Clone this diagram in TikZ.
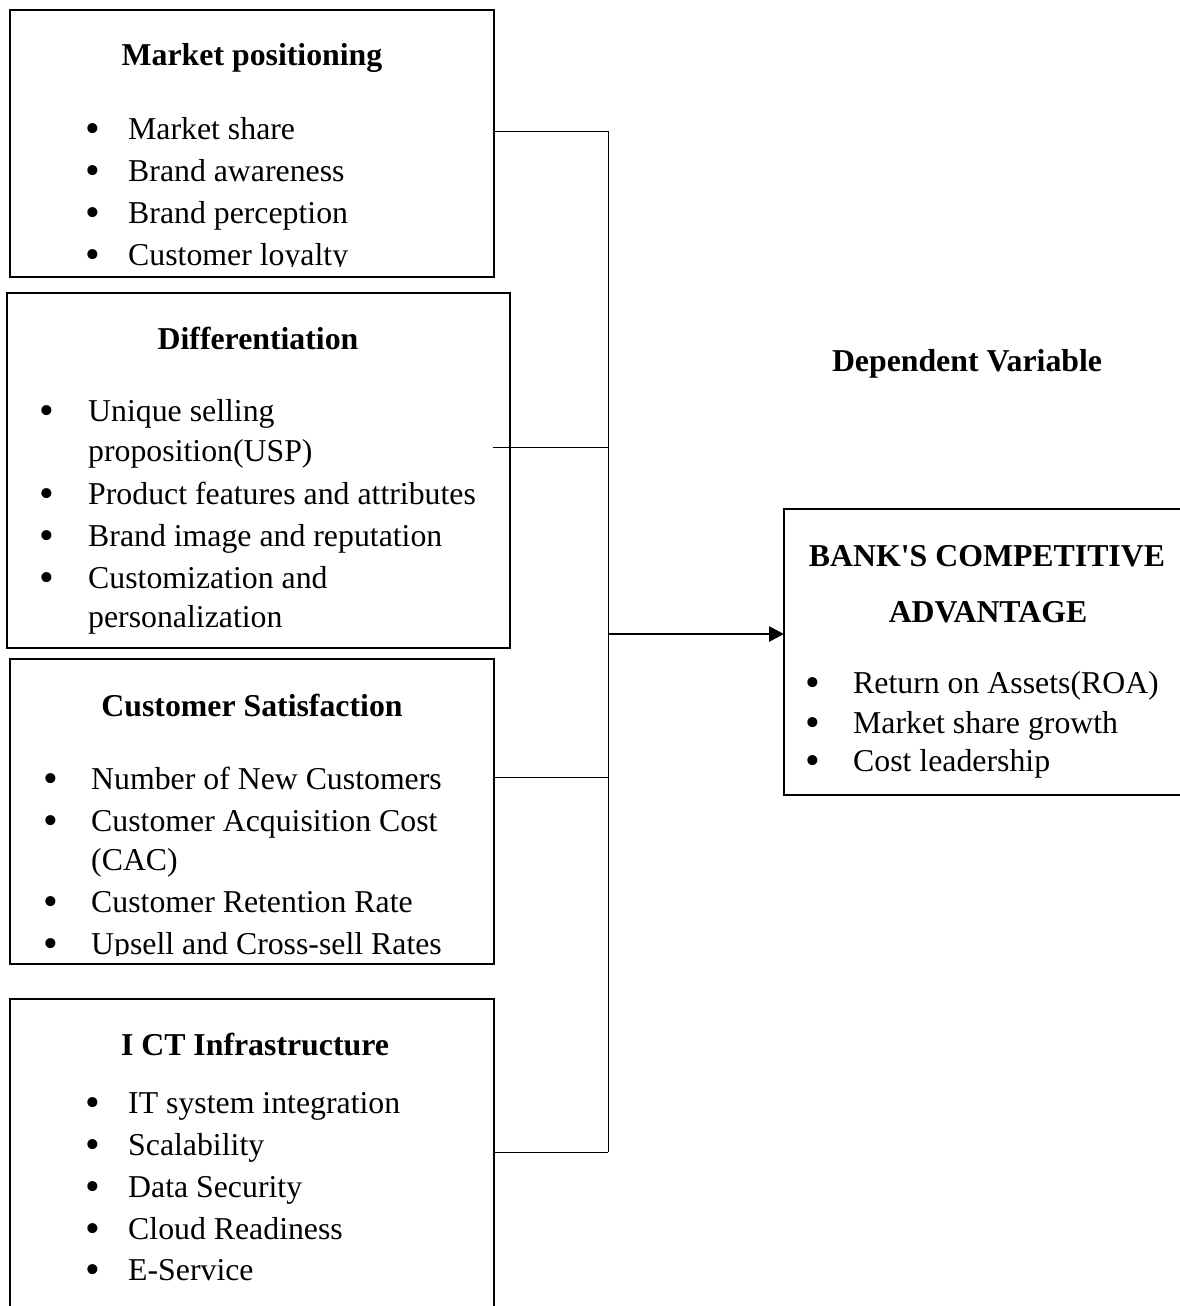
\documentclass[tikz,border=0pt]{standalone}
\usepackage{fontspec}
\setmainfont{Liberation Serif}[Ligatures=TeXOff]
\usetikzlibrary{arrows.meta}
\begin{document}
\begin{tikzpicture}[x=1pt,y=-1pt,
  box/.style={draw, line width=1.4pt, inner sep=0pt, outer sep=0pt, anchor=north west},
  txt/.style={anchor=base west, inner sep=0pt, font=\fontsize{31.8}{36}\selectfont},
  bul/.style={anchor=base, inner sep=0pt, font=\fontsize{42}{44}\selectfont},
  ttl/.style={anchor=base, inner sep=0pt, font=\fontsize{31.8}{36}\selectfont\bfseries},
  conn/.style={line width=1pt},
  arr/.style={line width=2.6pt, -{Triangle[length=15pt,width=15pt]}}]
\useasboundingbox (0,0) rectangle (1180,1306);
\fill[white] (0,0) rectangle (1180,1306);

% boxes
\node[box, minimum width=484pt, minimum height=267pt] (b1) at (10,10) {};
\node[box, minimum width=503pt, minimum height=355pt] (b2) at (7,293) {};
\node[box, minimum width=484pt, minimum height=305pt] (b3) at (10,659) {};
\node[box, minimum width=484pt, minimum height=320pt] (b4) at (10,999) {};
\node[box, minimum width=420pt, minimum height=286pt] (dv) at (784,509) {};

% box 1
\node[ttl] (t1) at (252,66) {Market positioning};
\begin{scope}
\clip (10,10) rectangle (494,266);
\foreach \n/\y/\s in {1/139/Market share,2/181/Brand awareness,3/223/Brand perception,4/265/Customer loyalty}{
  \node[bul] (b1p\n) at (93,\y+3.5) {•};
  \node[txt] (b1t\n) at (128,\y) {\s};
}
\end{scope}

% box 2
\node[ttl] (t2) at (258,349) {Differentiation};
\foreach \n/\y in {1/421,2/504,3/546,4/588}{
  \node[bul] (b2p\n) at (47,\y+3.5) {•};
}
\node[txt] (b2t1) at (88,421) {Unique selling};
\node[txt] (b2t1b) at (88,461) {proposition(USP)};
\node[txt] (b2t2) at (88,504) {Product features and attributes};
\node[txt] (b2t3) at (88,546) {Brand image and reputation};
\node[txt] (b2t4) at (88,588) {Customization and};
\node[txt] (b2t4b) at (88,627) {personalization};

% box 3
\node[ttl] (t3) at (252,716) {Customer Satisfaction};
\begin{scope}
\clip (10,659) rectangle (494,955);
\foreach \n/\y in {1/789,2/831,3/912,4/954}{
  \node[bul] (b3p\n) at (51,\y+3.5) {•};
}
\node[txt] (b3t1) at (91,789) {Number of New Customers};
\node[txt] (b3t2) at (91,831) {Customer Acquisition Cost};
\node[txt] (b3t2b) at (91,870) {(CAC)};
\node[txt] (b3t3) at (91,912) {Customer Retention Rate};
\node[txt] (b3t4) at (91,954) {Upsell and Cross-sell Rates};
\end{scope}

% box 4
\node[ttl] (t4) at (255,1055) {I CT Infrastructure};
\foreach \n/\y/\s in {1/1113/IT system integration,2/1155/Scalability,3/1197/Data Security,4/1239/Cloud Readiness,5/1280/E-Service}{
  \node[bul] (b4p\n) at (93,\y+3.5) {•};
  \node[txt] (b4t\n) at (128,\y) {\s};
}

% dependent variable
\node[ttl] (dvl) at (967,371) {Dependent Variable};
\node[ttl] (dvt1) at (987,566) {BANK'S COMPETITIVE};
\node[ttl] (dvt2) at (988,622) {ADVANTAGE};
\foreach \n/\y/\s in {1/693/Return on Assets(ROA),2/733/Market share growth,3/771/Cost leadership}{
  \node[bul] (dvp\n) at (813,\y+3.5) {•};
  \node[txt] (dvt\n x) at (853,\y) {\s};
}

% connectors
\coordinate (c1) at (608,131);
\coordinate (c2) at (608,447);
\coordinate (c3) at (608,777);
\coordinate (c4) at (608,1152);
\coordinate (c5) at (608,634);
\coordinate (s2) at (493,447);
\draw[conn] (b1.east |- c1) -- (c1) -- (c4);
\draw[conn] (s2) -- (c2);
\draw[conn] (b3.east |- c3) -- (c3);
\draw[conn] (b4.east |- c4) -- (c4);
\draw[arr] (c5) -- (dv.west |- c5);
\end{tikzpicture}
\end{document}
